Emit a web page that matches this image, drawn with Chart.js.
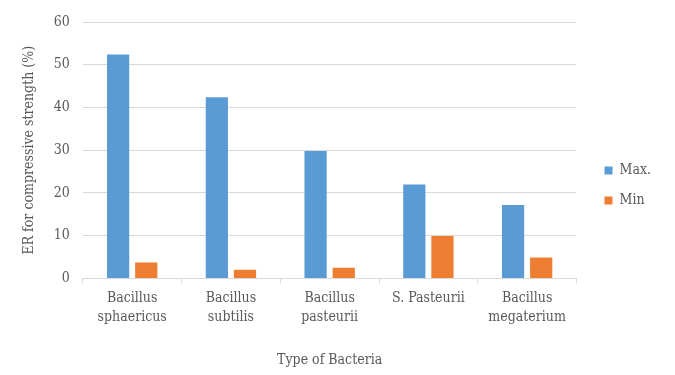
<!DOCTYPE html>
<html lang="en">
<head>
  <meta charset="UTF-8">
  <title>ER for compressive strength</title>
  <script src="https://cdn.jsdelivr.net/npm/chart.js"></script>
  <style>
    html, body { margin: 0; padding: 0; background: #fff; }
    #wrap { width: 675px; height: 375px; }
  </style>
</head>
<body>
  <div id="wrap"><canvas id="erChart" width="675" height="375"></canvas></div>

  <script>
    // Data
    const bacteria = [
      ['Bacillus', 'sphaericus'],
      ['Bacillus', 'subtilis'],
      ['Bacillus', 'pasteurii'],
      'S. Pasteurii',
      ['Bacillus', 'megaterium']
    ];
    const maxValues = [52.4, 42.4, 29.8, 22.0, 17.2];
    const minValues = [3.7, 2.0, 2.5, 9.9, 4.9];
    const yTicks = [0, 10, 20, 30, 40, 50, 60];

    const textColor = '#595959';
    const gridColor = '#d9d9d9';
    const serif = '"DejaVu Serif Condensed", "DejaVu Serif", serif';

    // nudge the legend so it sits further right, as in the figure
    const legendShift = {
      id: 'legendShift',
      afterLayout(chart) {
        const lg = chart.legend;
        lg.left += 12; lg.right += 12;
        lg.top -= 10; lg.bottom -= 10;
      }
    };

    new Chart(document.getElementById('erChart'), {
      type: 'bar',
      data: {
        labels: bacteria,
        datasets: [
          { label: 'Max.', data: maxValues, backgroundColor: '#5b9bd5' },
          { label: 'Min', data: minValues, backgroundColor: '#ed7d31' }
        ]
      },
      plugins: [legendShift],
      options: {
        responsive: false,
        animation: false,
        datasets: {
          bar: { categoryPercentage: 0.57, barPercentage: 0.79 }
        },
        layout: { padding: { left: 21, top: 22, right: 26, bottom: 6 } },
        plugins: {
          tooltip: { enabled: false },
          legend: {
            position: 'right',
            labels: {
              boxWidth: 8,
              boxHeight: 8,
              padding: 16,
              color: textColor,
              font: { family: serif, size: 14 }
            }
          }
        },
        scales: {
          x: {
            grid: {
              display: true,
              offset: true,
              drawOnChartArea: false,
              drawTicks: true,
              tickLength: 5,
              color: gridColor
            },
            border: { display: true, color: gridColor },
            ticks: { color: textColor, font: { family: serif, size: 14, lineHeight: 1.35 }, padding: 6, maxRotation: 0 },
            title: {
              display: true,
              text: 'Type of Bacteria',
              color: textColor,
              font: { family: serif, size: 14 },
              padding: { top: 19, bottom: 0 }
            }
          },
          y: {
            min: 0,
            max: 60,
            afterBuildTicks: (axis) => { axis.ticks = yTicks.map(v => ({ value: v })); },
            grid: { color: gridColor, drawTicks: false },
            border: { display: false },
            ticks: { color: textColor, font: { family: serif, size: 14 }, padding: 13 },
            title: {
              display: true,
              text: 'ER for compressive strength (%)',
              color: textColor,
              font: { family: serif, size: 14 },
              padding: { top: 0, bottom: 3 }
            }
          }
        }
      }
    });
  </script>
</body>
</html>
